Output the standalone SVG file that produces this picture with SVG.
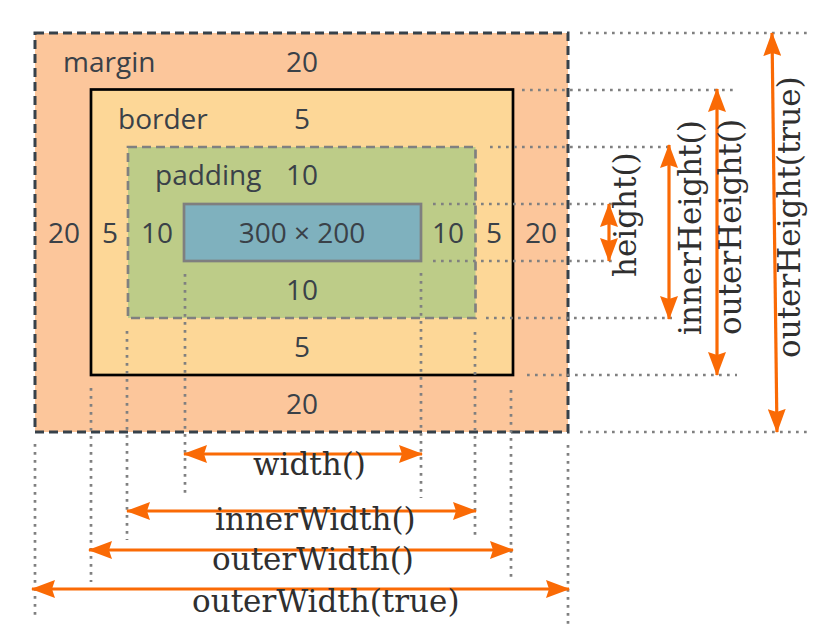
<svg xmlns="http://www.w3.org/2000/svg" width="817" height="631" viewBox="0 0 817 631">
  <style>
    .lbl { font-family: "Open Sans", "DejaVu Sans", sans-serif; font-size: 28px; fill: #3a4148; }
    .mid { text-anchor: middle; }
    .dim { font-family: "DejaVu Serif", "Liberation Serif", serif; font-size: 31px; fill: #2f2f2f; }
    .dot { stroke: #808080; stroke-width: 2.7; stroke-dasharray: 2.7 5.3; fill: none; }
    .arr { stroke: #fa6a05; stroke-width: 3.2; fill: none; marker-start: url(#head); marker-end: url(#head); }
  </style>
  <defs>
    <marker id="head" viewBox="0 0 24 18" refX="23" refY="9" markerWidth="24" markerHeight="18" markerUnits="userSpaceOnUse" orient="auto-start-reverse">
      <path d="M0,0 L24,9 L0,18 L3,9 Z" fill="#fa6a05"/>
    </marker>
  </defs>
  <rect width="817" height="631" fill="#ffffff"/>

  <g id="margin">
    <rect x="35" y="33" width="533" height="399" fill="#fcc69b" stroke="#36414a" stroke-width="3" stroke-dasharray="9 5"/>
    <text class="lbl" x="63" y="72">margin</text>
    <text class="lbl mid" x="302" y="72">20</text>
    <text class="lbl mid" x="64" y="243">20</text>
    <text class="lbl mid" x="541" y="243">20</text>
    <text class="lbl mid" x="302" y="414">20</text>
  </g>

  <g id="border">
    <rect x="91" y="89.5" width="422" height="285.5" fill="#fdd797" stroke="#000000" stroke-width="2.7"/>
    <text class="lbl" x="118" y="129">border</text>
    <text class="lbl mid" x="302" y="129">5</text>
    <text class="lbl mid" x="110" y="243">5</text>
    <text class="lbl mid" x="494" y="243">5</text>
    <text class="lbl mid" x="302" y="357">5</text>
  </g>

  <g id="padding">
    <rect x="128" y="147" width="347.5" height="171" fill="#bdcc88" stroke="#808080" stroke-width="2.7" stroke-dasharray="9 5"/>
    <text class="lbl" x="155" y="185">padding</text>
    <text class="lbl mid" x="302" y="185">10</text>
    <text class="lbl mid" x="157" y="243">10</text>
    <text class="lbl mid" x="448" y="243">10</text>
    <text class="lbl mid" x="302" y="300">10</text>
  </g>

  <g id="content">
    <rect x="184" y="204" width="237" height="57" fill="#7fb1be" stroke="#7f7f7f" stroke-width="2.7"/>
    <text class="lbl mid" x="302" y="243">300 × 200</text>
  </g>

  <g id="connectors">
    <g id="guides">
      <line class="dot" x1="580" y1="33" x2="808" y2="33"/>
      <line class="dot" x1="522" y1="90" x2="734" y2="90"/>
      <line class="dot" x1="490" y1="147" x2="674" y2="147"/>
      <line class="dot" x1="433" y1="204" x2="616" y2="204"/>
      <line class="dot" x1="433" y1="261" x2="616" y2="261"/>
      <line class="dot" x1="486" y1="318" x2="672" y2="318"/>
      <line class="dot" x1="527" y1="375" x2="737" y2="375"/>
      <line class="dot" x1="580" y1="432" x2="808" y2="432"/>

      <line class="dot" x1="35" y1="444" x2="35" y2="618"/>
      <line class="dot" x1="91" y1="388" x2="91" y2="582"/>
      <line class="dot" x1="127" y1="331" x2="127" y2="540"/>
      <line class="dot" x1="185" y1="274" x2="185" y2="494"/>
      <line class="dot" x1="421" y1="273" x2="421" y2="498"/>
      <line class="dot" x1="475" y1="332" x2="475" y2="540"/>
      <line class="dot" x1="511" y1="390" x2="511" y2="582"/>
      <line class="dot" x1="568" y1="445" x2="568" y2="626"/>
    </g>
    <g id="arrows">
      <line class="arr" x1="184" y1="454" x2="422" y2="454"/>
      <line class="arr" x1="127" y1="511" x2="476" y2="511"/>
      <line class="arr" x1="89" y1="550" x2="513" y2="550"/>
      <line class="arr" x1="32" y1="589" x2="569" y2="589"/>

      <line class="arr" x1="609" y1="204" x2="609" y2="261"/>
      <line class="arr" x1="669" y1="145" x2="669" y2="319"/>
      <line class="arr" x1="717" y1="89" x2="717" y2="375"/>
      <line class="arr" x1="772" y1="33" x2="777" y2="432"/>
    </g>
  </g>

  <g id="dimension-labels">
    <text class="dim" x="253" y="475">width()</text>
    <text class="dim" x="215" y="530">innerWidth()</text>
    <text class="dim" x="212" y="570">outerWidth()</text>
    <text class="dim" x="192" y="612">outerWidth(true)</text>
    <text class="dim" transform="translate(636,277) rotate(-90)">height()</text>
    <text class="dim" transform="translate(701,335) rotate(-90)">innerHeight()</text>
    <text class="dim" transform="translate(741,335) rotate(-90)">outerHeight()</text>
    <text class="dim" transform="translate(800,358) rotate(-90)">outerHeight(true)</text>
  </g>
</svg>
